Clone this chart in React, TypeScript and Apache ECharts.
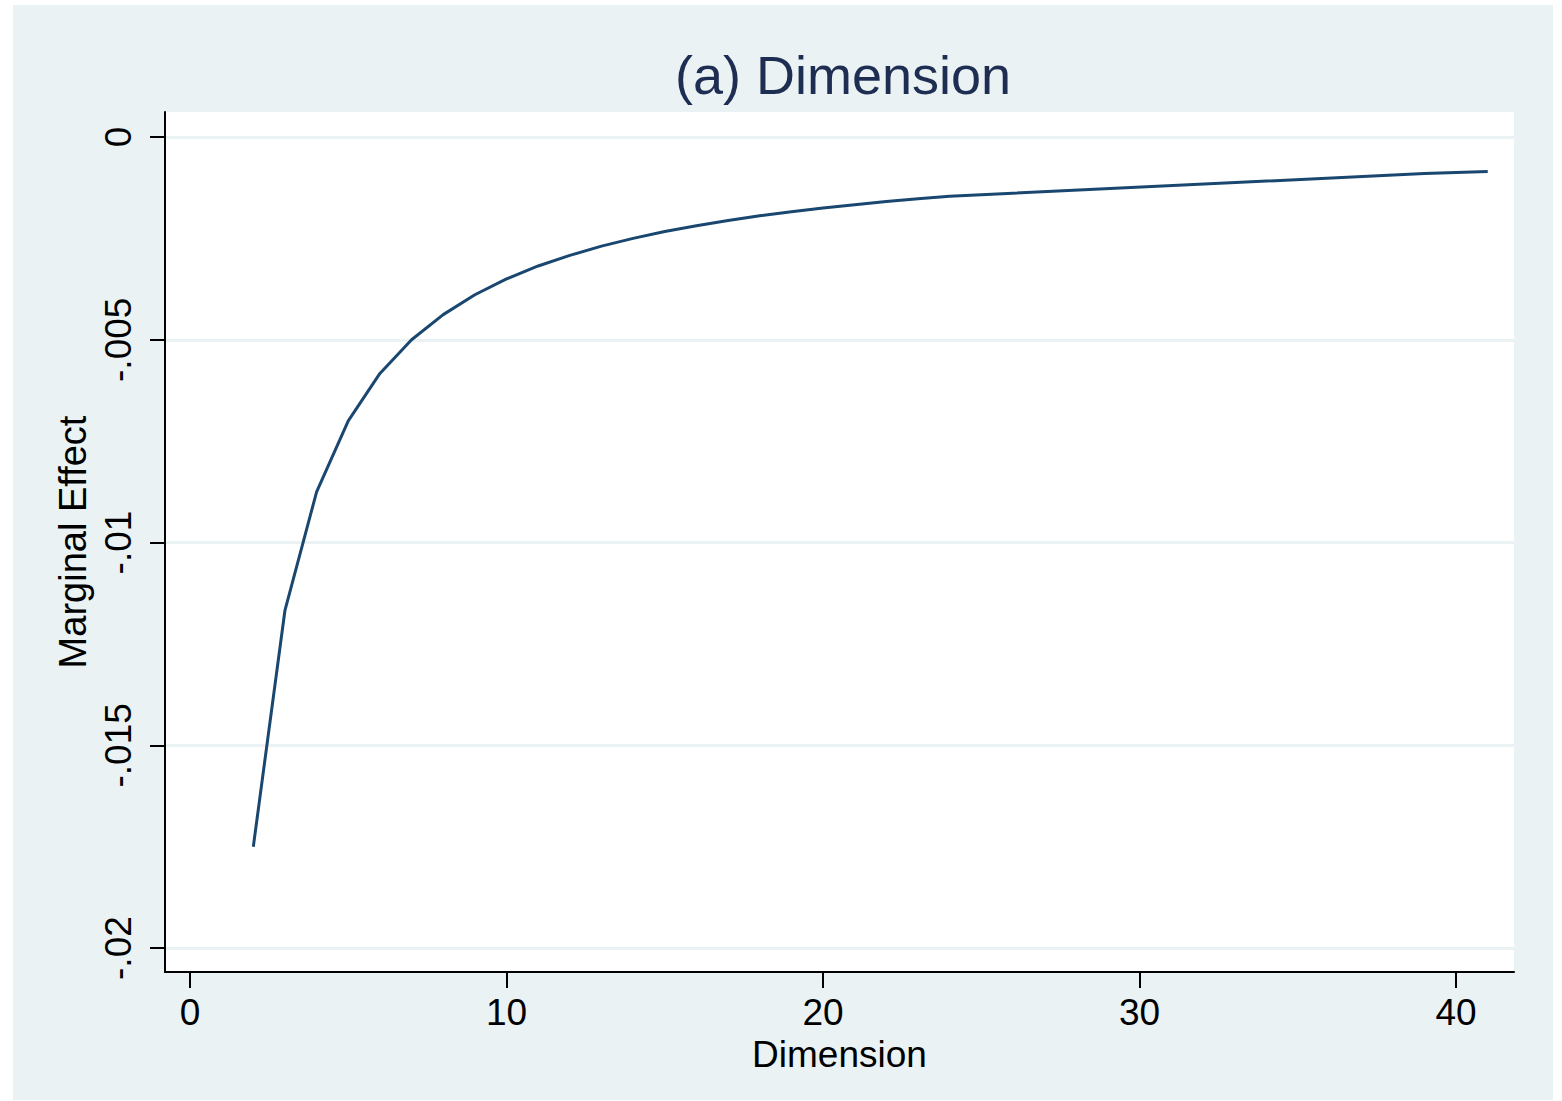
import React, { useEffect, useRef } from "react";
import * as echarts from "echarts";

const dimension = [2, 3, 4, 5, 6, 7, 8, 9, 10, 11, 12, 13, 14, 15, 16, 17, 18, 19, 20, 21, 22, 23, 24, 39, 41];
const marginalEffect = [
  -0.0175, -0.01167, -0.00875, -0.007, -0.00583, -0.005, -0.00438, -0.00389, -0.0035, -0.00318,
  -0.00292, -0.00269, -0.0025, -0.00233, -0.00219, -0.00206, -0.00194, -0.00184, -0.00175,
  -0.00167, -0.00159, -0.00152, -0.00146, -0.0009, -0.00085,
];
const xTicks = [0, 10, 20, 30, 40];
const yTicks = [0, -0.005, -0.01, -0.015, -0.02];
const titleText = "(a) Dimension";
const xName = "Dimension";
const yName = "Marginal Effect";

const fmtY = (v: number) => {
  if (v === 0) return "0";
  const s = String(Math.round(v * 1000) / 1000);
  return s.replace("0.", ".");
};

export default function App() {
  const ref = useRef<HTMLDivElement>(null);
  useEffect(() => {
    document.body.style.margin = "0";
    const chart = echarts.init(ref.current!, null, { renderer: "svg" });
    const font = "'Liberation Sans', Arial, Helvetica, sans-serif";
    chart.setOption({
      animation: false,
      backgroundColor: "#ffffff",
      graphic: [
        {
          type: "rect",
          z: -10,
          silent: true,
          shape: { x: 13, y: 5, width: 1540, height: 1095 },
          style: { fill: "#eaf2f3" },
        },
      ],
      title: {
        text: titleText,
        left: 838,
        textAlign: "center",
        top: 43,
        textStyle: { fontFamily: font, fontSize: 54, fontWeight: "normal", color: "#1e2d52" },
      },
      grid: {
        left: 165,
        top: 112,
        right: 48,
        bottom: 129,
        show: true,
        backgroundColor: "#ffffff",
        borderWidth: 0,
      },
      xAxis: {
        type: "value",
        min: -0.79,
        max: 41.83,
        name: xName,
        nameLocation: "middle",
        nameGap: 62,
        nameTextStyle: { fontFamily: font, fontSize: 37, color: "#000" },
        axisLine: { show: true, onZero: false, lineStyle: { color: "#000", width: 2 } },
        axisTick: { show: true, length: 16, lineStyle: { color: "#000", width: 2 }, customValues: xTicks },
        axisLabel: {
          fontFamily: font,
          fontSize: 37,
          color: "#000",
          margin: 22,
          customValues: xTicks,
          showMinLabel: true,
          showMaxLabel: true,
        },
        splitLine: { show: false },
      },
      yAxis: {
        type: "value",
        min: -0.02059,
        max: 0.000617,
        name: yName,
        nameLocation: "middle",
        nameGap: 66,
        nameRotate: 90,
        nameTextStyle: { fontFamily: font, fontSize: 38, color: "#000" },
        axisLine: { show: true, onZero: false, lineStyle: { color: "#000", width: 2 } },
        axisTick: { show: true, length: 15, lineStyle: { color: "#000", width: 2 }, customValues: yTicks },
        axisLabel: {
          fontFamily: font,
          fontSize: 37,
          color: "#000",
          rotate: 90,
          margin: 28,
          customValues: yTicks,
          formatter: (v: number) => fmtY(v),
        },
        splitLine: { show: true, lineStyle: { color: "#eaf2f3", width: 3 } },
      },
      series: [
        {
          type: "line",
          data: dimension.map((d, i) => [d, marginalEffect[i]]),
          showSymbol: false,
          symbol: "none",
          lineStyle: { color: "#1a476f", width: 3 },
        },
      ],
    });
    return () => chart.dispose();
  }, []);
  return <div ref={ref} style={{ width: 1562, height: 1101 }} />;
}
